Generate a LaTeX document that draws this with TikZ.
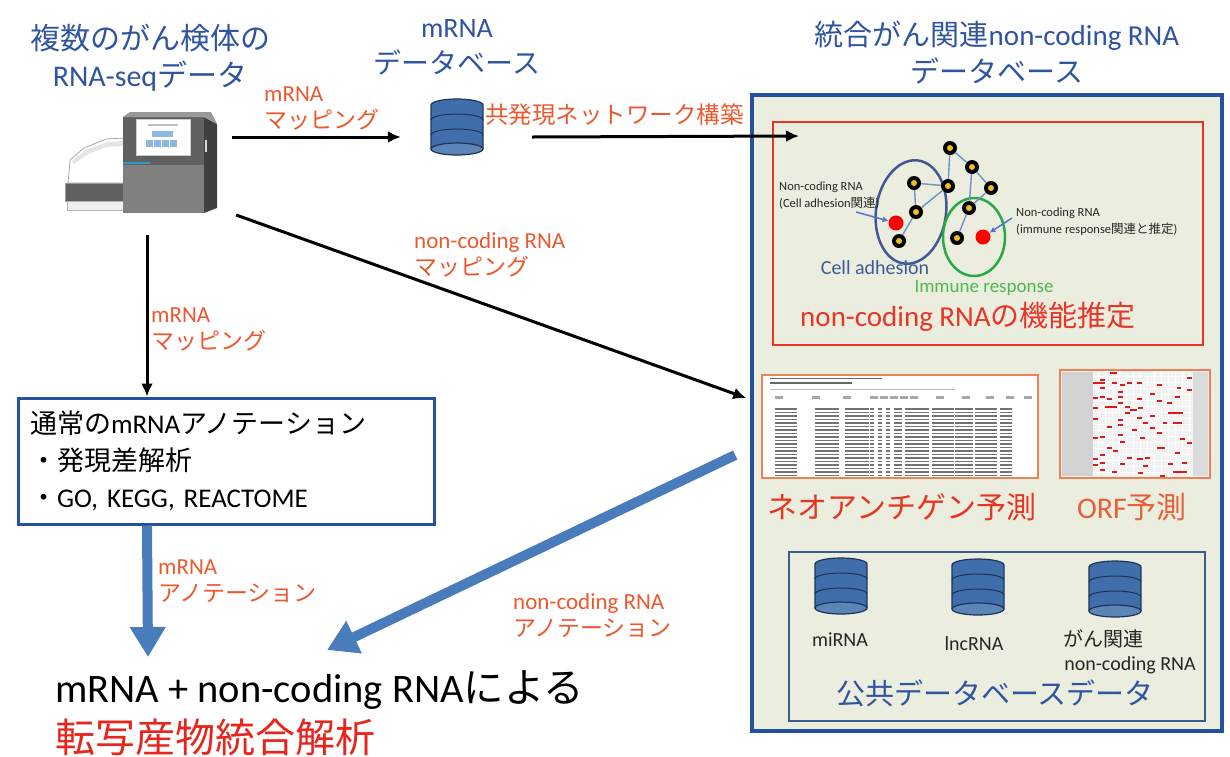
\documentclass[tikz,border=0pt]{standalone}
\usepackage{fontspec}
\setmainfont{Carlito}
\newfontfamily\jp{Noto Sans CJK JP}
\usetikzlibrary{arrows.meta}

\definecolor{ttlblue}{RGB}{47,84,160}
\definecolor{lblred}{RGB}{236,88,46}
\definecolor{deepred}{RGB}{232,36,28}
\definecolor{boxblue}{RGB}{36,80,160}
\definecolor{arrblue}{RGB}{72,124,186}
\definecolor{dbfill}{RGB}{64,110,170}
\definecolor{dbline}{RGB}{28,52,90}
\definecolor{panelgreen}{RGB}{235,238,222}
\definecolor{fnred}{RGB}{234,52,40}
\definecolor{neored}{RGB}{232,52,32}
\definecolor{orfred}{RGB}{232,96,58}
\definecolor{tblorange}{RGB}{240,128,86}
\definecolor{cellblue}{RGB}{62,90,150}
\definecolor{immgreen}{RGB}{40,168,70}
\definecolor{immtxt}{RGB}{80,182,84}
\definecolor{edgeblue}{RGB}{110,145,200}
\definecolor{pubblue}{RGB}{60,90,140}
\definecolor{screenblue}{RGB}{140,185,225}
\definecolor{nodeyellow}{RGB}{240,190,30}

\tikzset{
  ttl/.style={text=ttlblue, align=center, font=\fontsize{28}{36}\selectfont},
  redlbl/.style={text=lblred, align=left, anchor=west, inner sep=0pt, font=\fontsize{23}{27}\selectfont},
  blkarrow/.style={line width=3pt, -{Latex[length=13pt,width=12pt]}},
  bigarrow/.style={arrblue, line width=10pt, -{Triangle[length=30pt,width=34pt]}},
  netnode/.style={circle, fill=black, inner sep=0pt, minimum size=14pt,
    path picture={\fill[nodeyellow] (path picture bounding box.center) circle (3pt);}},
  ncnode/.style={circle, fill=red, inner sep=0pt, minimum size=15pt},
  netedge/.style={edgeblue, line width=1.4pt},
  ptrarrow/.style={edgeblue!80!blue, line width=1.5pt, -{Latex[length=6pt,width=6pt]}},
  smalllbl/.style={align=left, anchor=west, inner sep=0pt, text=black!85, font=\fontsize{12.5}{17}\selectfont},
  tblbox/.style={draw=tblorange, line width=2.5pt, fill=white, inner sep=0pt},
  dblbl/.style={text=black!85, inner sep=0pt, font=\fontsize{20}{24}\selectfont},
  pics/dbstack/.style={code={
    \fill[dbfill] (-26,-22) rectangle (26,22);
    \fill[dbfill] (0,22) ellipse [x radius=26, y radius=6];
    \draw[dbline, line width=1.2pt] (-26,-22) -- (-26,22) arc[start angle=180, end angle=0, x radius=26, y radius=6] -- (26,-22);
    \draw[dbline, line width=1pt] (-26,-8) arc[start angle=180, end angle=0, x radius=26, y radius=6];
    \draw[dbline, line width=1pt] (-26,7) arc[start angle=180, end angle=0, x radius=26, y radius=6];
    \filldraw[fill=dbfill!85!white, draw=dbline, line width=1.2pt] (0,-22) ellipse [x radius=26, y radius=6];
    \node[minimum width=52pt, minimum height=56pt, inner sep=0pt] (-box) at (0,0) {};
  }}
}

\begin{document}
\begin{tikzpicture}[x=1pt,y=1pt,yscale=-1,xscale=1]
\useasboundingbox (0,0) rectangle (1230,756);

% titles
\node (srcttl) [ttl, font=\fontsize{30}{37}\selectfont] at (150,58) {{\jp 複数のがん検体の}\\RNA-seq{\jp データ}};
\node (mdbttl) [ttl] at (457,47) {mRNA\\{\jp データベース}};
\node (ncdbttl) [ttl, font=\fontsize{29}{37}\selectfont] at (997,53) {{\jp 統合がん関連}non-coding RNA\\{\jp データベース}};

% sequencer
\node (seq) [minimum width=170pt, minimum height=130pt, inner sep=0pt] at (147,170) {};
\filldraw[fill=white, draw=gray!70, line width=0.8pt] (68,183) -- (70,160) -- (84,148) -- (106,139) -- (125,138) -- (125,183) -- cycle;
\fill[gray!20] (72,161) -- (86,150) -- (107,142) -- (124,141) -- (124,146) -- (107,147) -- (88,154) -- (74,164) -- cycle;
\filldraw[fill=black!62, draw=gray!80] (65,183) rectangle (125,201);
\filldraw[fill=gray!12, draw=gray!60] (67,201) rectangle (125,210);
\fill[black!62] (123,117) rectangle (204,213);
\fill[black!50] (123,165) rectangle (204,213);
\fill[black!75] (204,117) -- (217,124) -- (217,208) -- (204,213) -- cycle;
\fill[black!40] (123,117) -- (130,112) -- (211,112) -- (217,124) -- (204,117) -- cycle;
\filldraw[fill=white, draw=gray!40] (136,119) rectangle (190,155);
\fill[gray!50] (148,124) rectangle (178,125.5);
\fill[screenblue] (152,131) rectangle (173,137);
\foreach \bx in {146,154,162,170}
  \fill[screenblue] (\bx,140) rectangle ++(6.5,6.5);
\draw[cyan!60!teal, line width=1.5pt] (123,163) -- (150,163);
\fill[gray!30] (205,140) rectangle (207,152);

% mRNA database
\pic (mdb) at (457,127) {dbstack};

% integrated database panel
\node (ncdb) [draw=boxblue, line width=3.5pt, fill=panelgreen, minimum width=470pt, minimum height=636pt] at (987,413) {};
\node (fnbox) [draw=fnred, line width=2pt, minimum width=430pt, minimum height=223pt] at (988,233.5) {};

% network
\draw[cellblue, line width=2.5pt, rotate around={8:(911,212)}] (911,212) ellipse [x radius=35, y radius=52];
\draw[immgreen, line width=2.5pt] (974,237) ellipse [x radius=31, y radius=39];
\node (n1) [netnode] at (950,148) {};
\node (n2) [netnode] at (972,167) {};
\node (n3) [netnode] at (991,188) {};
\node (n4) [netnode] at (948,186) {};
\node (n5) [netnode] at (914,183) {};
\node (n6) [netnode] at (916,212) {};
\node (n7) [netnode] at (899,241) {};
\node (n8) [netnode] at (969,208) {};
\node (n9) [netnode] at (957,238) {};
\node (r1) [ncnode] at (896,223) {};
\node (r2) [ncnode] at (983,237) {};
\draw[netedge] (n1) -- (n4);
\draw[netedge] (n1) -- (n2);
\draw[netedge] (n2) -- (n3);
\draw[netedge] (n2) -- (n8);
\draw[netedge] (n3) -- (n8);
\draw[netedge] (n5) -- (n4);
\draw[netedge] (n5) -- (n6);
\draw[netedge] (n4) -- (n6);
\draw[netedge] (n6) -- (n7);
\draw[netedge] (n8) -- (n9);

\node (celllbl) [smalllbl] at (779,196) {Non-coding RNA\\(Cell adhesion{\jp 関連})};
\node (immlbl) [smalllbl] at (1016,222) {Non-coding RNA\\(immune response{\jp 関連と推定})};
\coordinate (cellptr) at (856,212);
\coordinate (immptr) at (1012,218);
\draw[ptrarrow] (cellptr) -- (r1);
\draw[ptrarrow] (immptr) -- (r2);
\node (celltxt) [text=cellblue, inner sep=0pt, font=\fontsize{20}{24}\selectfont] at (875,268) {Cell adhesion};
\node (immtx) [text=immtxt, inner sep=0pt, font=\fontsize{19}{24}\selectfont] at (984,288) {Immune response};
\node (fnlbl) [text=fnred, inner sep=0pt, font=\fontsize{29}{34}\selectfont] at (968,317) {non-coding RNA{\jp の機能推定}};

% neoantigen table
\node (neo) [tblbox] [minimum width=276pt, minimum height=103pt] at (900,426.5) {};
\fill[black!60] (770,377.5) rectangle (882,379);
\fill[black!60] (770,382) rectangle (852,383.5);
\draw[gray!50, line width=0.6pt] (770,389) -- (955,389);
\foreach \cx in {775,812,843,870,880,890,900,910,936,962,986,1006,1024}
  \fill[gray!70] (\cx,396) rectangle ++(8,2.5);
\foreach \ry in {0,...,19}{
  \foreach \cx/\cw in {775/22,815/24,845/24,870/4,878/4,886/4,894/8,905/24,932/22,955/18,975/22,1000/12}
    \fill[black!55] (\cx,408+\ry*3.5) rectangle ++(\cw,1.6);
}
\node (neolbl) [text=neored, inner sep=0pt, font=\fontsize{30}{34}\selectfont\jp] at (902,507) {ネオアンチゲン予測};

% ORF table
\node (orf) [tblbox, fill=gray!10] [minimum width=150pt, minimum height=108pt] at (1135,424) {};
\fill[gray!35] (1062,372) rectangle (1093,476);
\fill[gray!28] (1193,372) rectangle (1208,476);
\foreach \gx in {1098,1105,...,1190}
  \draw[white, line width=0.8pt] (\gx,372) -- (\gx,476);
\foreach \gy in {376,382,...,474}
  \draw[white, line width=0.6pt] (1093,\gy) -- (1193,\gy);
\foreach \rx/\rw/\ry in {1110/7/373,1100/5/380,1093/12/383,1112/5/383,1120/5/385,1127/5/383,1137/5/383,1157/5/385,1187/5/378,
  1177/4/388,1187/5/390,1100/5/388,1118/5/392,1150/5/394,1100/5/397,1093/5/398,1107/5/399,1118/5/397,1137/5/399,1157/5/401,
  1175/5/397,1167/5/403,1105/12/407,1118/5/403,1125/5/407,1130/7/410,1138/5/408,1093/5/408,1125/5/413,1150/5/416,1168/15/413,
  1137/5/418,1093/5/419,1118/5/420,1118/5/425,1143/5/423,1107/5/427,1150/5/428,1163/4/423,1173/9/423,1132/5/430,1157/5/433,
  1100/5/437,1093/5/438,1118/5/435,1120/5/442,1140/5/438,1180/5/439,1107/5/448,1113/5/451,1157/8/448,1175/5/453,1187/5/443,
  1100/5/455,1093/5/459,1127/5/458,1137/6/459,1145/5/458,1100/5/463,1093/5/465,1120/5/464,1143/5/466,1168/5/464,1182/5/463,
  1100/5/470,1112/5/472,1138/5/473,1160/5/476,1173/14/472}
  \fill[red!85!black!90] (\rx,\ry-1.2) rectangle ++(\rw,2.6);
\node (orflbl) [text=orfred, inner sep=0pt, font=\fontsize{30}{34}\selectfont] at (1132,507) {ORF{\jp 予測}};

% public databases
\node (pubbox) [draw=pubblue, line width=2.5pt, minimum width=416pt, minimum height=169pt] at (997,636.5) {};
\pic (mirdb) at (841,586) {dbstack};
\pic (lncdb) at (978,587) {dbstack};
\pic (cadb) at (1115,589) {dbstack};
\node (mirlbl) [dblbl] at (840,640) {miRNA};
\node (lnclbl) [dblbl] at (974,644) {lncRNA};
\node (calbl) [dblbl, font=\fontsize{20}{24}\selectfont\jp] at (1103,639) {がん関連};
\node (nclbl) [dblbl] at (1130,665) {non-coding RNA};
\node (publbl) [text=ttlblue, inner sep=0pt, font=\fontsize{29}{34}\selectfont\jp] at (995,693) {公共データベースデータ};

% mRNA annotation box
\node (anno) [draw=boxblue, line width=3pt, minimum width=416pt, minimum height=126pt, text width=392pt, align=left, inner sep=0pt, font=\fontsize{27}{37}\selectfont] at (226,461) {{\jp 通常の}mRNA{\jp アノテーション}\\{\jp ・発現差解析}\\{\jp ・}GO, KEGG, REACTOME};

% result
\node (res1) [anchor=west, inner sep=0pt, font=\fontsize{40.5}{44}\selectfont] at (55,690) {mRNA + non-coding RNA{\jp による}};
\node (res2) [anchor=west, inner sep=0pt, text=deepred, font=\fontsize{40}{44}\selectfont\jp] at (55,737) {転写産物統合解析};

% connectors
\draw[blkarrow] ([shift={(0,-33)}]seq.east) -- ([shift={(-30,10)}]mdb-box.west);
\draw[blkarrow] ([shift={(49,10)}]mdb-box.east) -- ([shift={(27,15)}]fnbox.north west);
\draw[blkarrow] ([shift={(4,45)}]seq.east) -- ([shift={(-4,-15)}]ncdb.west);
\draw[blkarrow] (seq.south) -- (seq.south |- anno.north);
\draw[bigarrow] (anno.south -| seq.south) -- ([shift={(93,-33)}]res1.west);
\draw[bigarrow] ([shift={(-15,42)}]ncdb.west) -- ([shift={(272,-40)}]res1.west);

% connector labels
\node (mapmrna) [redlbl] at (264,108) {mRNA\\{\jp マッピング}};
\node (netlbl) [redlbl, font=\fontsize{23.5}{27}\selectfont\jp] at (485,115) {共発現ネットワーク構築};
\node (mapnc) [redlbl] at (414,255) {non-coding RNA\\{\jp マッピング}};
\node (mapmrnb) [redlbl] at (151,329) {mRNA\\{\jp マッピング}};
\node (annomrna) [redlbl] at (158,581) {mRNA\\{\jp アノテーション}};
\node (annonc) [redlbl] at (513,616) {non-coding RNA\\{\jp アノテーション}};

\end{tikzpicture}
\end{document}
